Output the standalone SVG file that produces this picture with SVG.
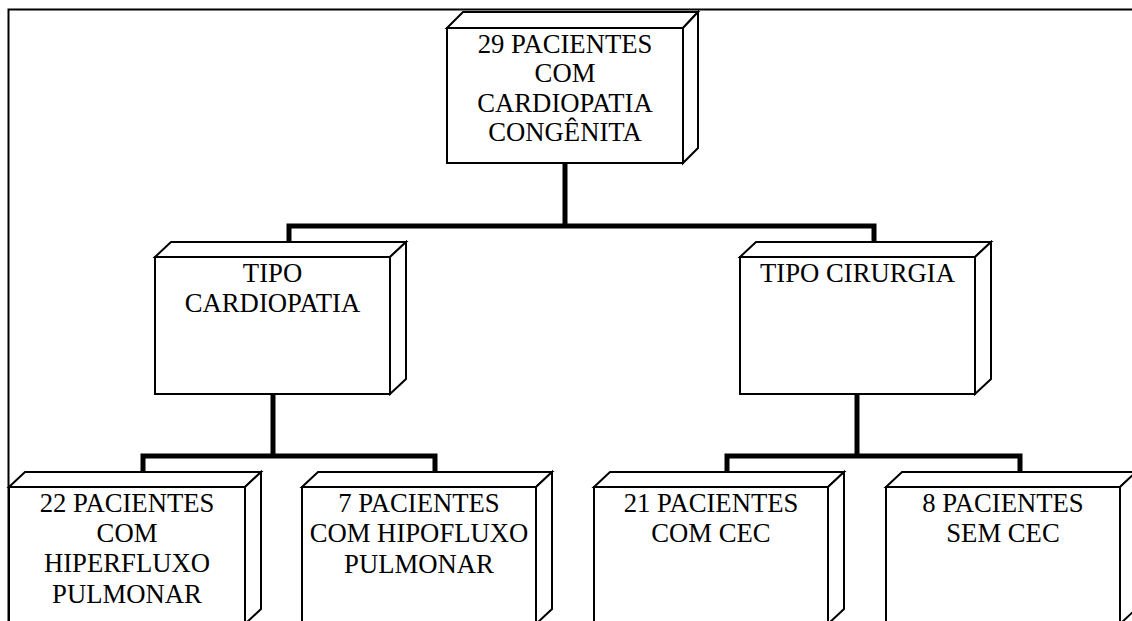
<svg xmlns="http://www.w3.org/2000/svg" width="1132" height="621" viewBox="0 0 1132 621" font-family="Liberation Serif, serif">
<style>
.f{fill:#fff;stroke:#000;stroke-width:2;stroke-linejoin:miter}
.t{font-size:26.7px;fill:#000;text-anchor:middle}
.c{fill:none;stroke:#000;stroke-width:5;stroke-linecap:butt;stroke-linejoin:miter}
</style>
<rect width="1132" height="621" fill="#fff"/>
<path d="M8.5,621 V9.5 H1132" fill="none" stroke="#000" stroke-width="2"/>
<g id="connectors">
<path class="c" d="M565,163 V226"/>
<path class="c" d="M289,242 V226 H874 V242"/>
<path class="c" d="M273,394 V456"/>
<path class="c" d="M143,472 V456 H435 V472"/>
<path class="c" d="M857,394 V456"/>
<path class="c" d="M727,472 V456 H1020 V472"/>
</g>
<g id="n-root">
<rect class="f" x="447" y="28" width="236" height="135"/>
<polygon class="f" points="447,28 463,12 698,12 683,28"/>
<polygon class="f" points="683,28 698,12 698,148 683,163"/>
<text class="t" x="565" y="53" font-family="Liberation Serif, serif">29 PACIENTES</text>
<text class="t" x="565" y="82" font-family="Liberation Serif, serif">COM</text>
<text class="t" x="565" y="112" font-family="Liberation Serif, serif">CARDIOPATIA</text>
<text class="t" x="565" y="141" font-family="Liberation Serif, serif">CONGÊNITA</text>
</g>
<g id="n-cardio">
<rect class="f" x="155" y="257" width="235" height="137"/>
<polygon class="f" points="155,257 171,242 406,242 390,257"/>
<polygon class="f" points="390,257 406,242 406,379 390,394"/>
<text class="t" x="272.5" y="282" font-family="Liberation Serif, serif">TIPO</text>
<text class="t" x="272.5" y="312" font-family="Liberation Serif, serif">CARDIOPATIA</text>
</g>
<g id="n-cirurgia">
<rect class="f" x="740" y="257" width="235" height="137"/>
<polygon class="f" points="740,257 756,242 991,242 975,257"/>
<polygon class="f" points="975,257 991,242 991,379 975,394"/>
<text class="t" x="857.5" y="282" font-family="Liberation Serif, serif">TIPO CIRURGIA</text>
</g>
<g id="n-hiper">
<rect class="f" x="9" y="487" width="236" height="137"/>
<polygon class="f" points="9,487 25,472 261,472 245,487"/>
<polygon class="f" points="245,487 261,472 261,609 245,624"/>
<text class="t" x="127" y="512" font-family="Liberation Serif, serif">22 PACIENTES</text>
<text class="t" x="127" y="542" font-family="Liberation Serif, serif">COM</text>
<text class="t" x="127" y="572" font-family="Liberation Serif, serif">HIPERFLUXO</text>
<text class="t" x="127" y="603" font-family="Liberation Serif, serif">PULMONAR</text>
</g>
<g id="n-hipo">
<rect class="f" x="302" y="487" width="234" height="137"/>
<polygon class="f" points="302,487 318,472 552,472 536,487"/>
<polygon class="f" points="536,487 552,472 552,609 536,624"/>
<text class="t" x="419" y="512" font-family="Liberation Serif, serif">7 PACIENTES</text>
<text class="t" x="419" y="542" font-family="Liberation Serif, serif">COM HIPOFLUXO</text>
<text class="t" x="419" y="573" font-family="Liberation Serif, serif">PULMONAR</text>
</g>
<g id="n-com">
<rect class="f" x="594" y="487" width="234" height="137"/>
<polygon class="f" points="594,487 610,472 844,472 828,487"/>
<polygon class="f" points="828,487 844,472 844,609 828,624"/>
<text class="t" x="711" y="512" font-family="Liberation Serif, serif">21 PACIENTES</text>
<text class="t" x="711" y="542" font-family="Liberation Serif, serif">COM CEC</text>
</g>
<g id="n-sem">
<rect class="f" x="886" y="487" width="234" height="137"/>
<polygon class="f" points="886,487 902,472 1136,472 1120,487"/>
<polygon class="f" points="1120,487 1136,472 1136,609 1120,624"/>
<text class="t" x="1003" y="512" font-family="Liberation Serif, serif">8 PACIENTES</text>
<text class="t" x="1003" y="542" font-family="Liberation Serif, serif">SEM CEC</text>
</g>
</svg>
